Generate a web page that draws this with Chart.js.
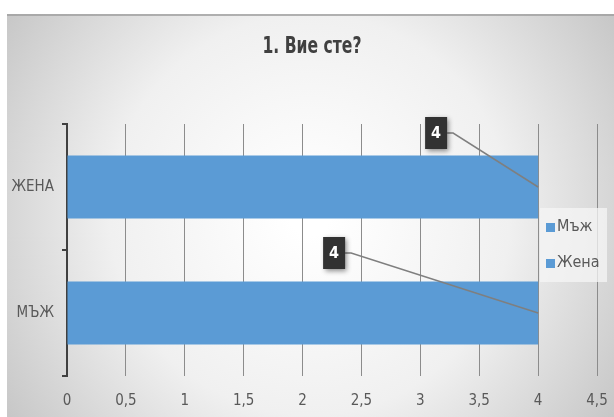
<!DOCTYPE html>
<html>
<head>
<meta charset="utf-8">
<script src="https://cdn.jsdelivr.net/npm/chart.js@4/dist/chart.umd.min.js"></script>
<style>
  html, body { margin: 0; padding: 0; background: #ffffff; }
  #wrap { width: 614px; height: 417px; position: relative; }
</style>
</head>
<body>
<div id="wrap"><canvas id="c"></canvas></div>
<script>
// Answers to "1. Вие сте?"
const chartTitle = '1. Вие сте?';
const categories = ['Мъж', 'Жена'];
const answerCounts = [4, 4];
const xTickStep = 0.5;
const xMax = 4.5;
const legendLabels = ['Мъж', 'Жена'];

const FONT = "'DejaVu Sans Condensed', 'Liberation Sans', sans-serif";
const BAR_BLUE = '#5B9BD5';

// Panel background: soft radial gradient framed in white
const panelBackground = {
  id: 'panelBackground',
  beforeDraw(chart) {
    const ctx = chart.ctx;
    const w = chart.width, h = chart.height;
    ctx.save();
    ctx.fillStyle = '#ffffff';
    ctx.fillRect(0, 0, w, h);
    const px = 7, py = 14;
    const g = ctx.createRadialGradient(310, 215, 20, 310, 215, 420);
    g.addColorStop(0, '#ffffff');
    g.addColorStop(0.45, '#f0f0f0');
    g.addColorStop(1, '#b9b9b9');
    ctx.fillStyle = g;
    ctx.fillRect(px, py, w - px, h - py);
    ctx.fillStyle = 'rgba(160,160,160,0.8)';
    ctx.fillRect(px, py, w - px, 2);
    ctx.restore();
  }
};

// Narrow heading centred above the plot
const narrowTitle = {
  id: 'narrowTitle',
  afterDraw(chart) {
    const ctx = chart.ctx;
    ctx.save();
    ctx.font = 'bold 23px ' + FONT;
    const tw = ctx.measureText(chartTitle).width;
    const targetW = 99;
    ctx.translate(312, 47);
    ctx.scale(targetW / tw, 1);
    ctx.fillStyle = '#404040';
    ctx.textAlign = 'center';
    ctx.textBaseline = 'middle';
    ctx.fillText(chartTitle, 0, 0);
    ctx.restore();
  }
};

// Dark value boxes with leader lines to the bar ends
const valueCallouts = {
  id: 'valueCallouts',
  afterDatasetsDraw(chart) {
    const ctx = chart.ctx;
    const meta = chart.getDatasetMeta(0);
    const offsets = [[-204, -60], [-102, -54]];
    ctx.save();
    meta.data.forEach((bar, i) => {
      const endX = bar.x, endY = bar.y;
      const cx = endX + offsets[i][0], cy = endY + offsets[i][1];
      const bw = 22, bh = 32;
      // leader line
      ctx.strokeStyle = '#7f7f7f';
      ctx.lineWidth = 1.5;
      ctx.beginPath();
      ctx.moveTo(cx + bw / 2, cy);
      ctx.lineTo(cx + bw / 2 + 6, cy);
      ctx.lineTo(endX, endY);
      ctx.stroke();
      // box with shadow
      ctx.shadowColor = 'rgba(0,0,0,0.45)';
      ctx.shadowBlur = 5;
      ctx.shadowOffsetX = 2;
      ctx.shadowOffsetY = 2;
      ctx.fillStyle = '#323232';
      ctx.fillRect(cx - bw / 2, cy - bh / 2, bw, bh);
      ctx.shadowColor = 'transparent';
      ctx.fillStyle = '#ffffff';
      ctx.font = 'bold 16px ' + FONT;
      ctx.textAlign = 'center';
      ctx.textBaseline = 'middle';
      ctx.fillText(String(answerCounts[i]), cx, cy + 1);
    });
    ctx.restore();
  }
};

// Legend panel overlapping the plot on the right
const sideLegend = {
  id: 'sideLegend',
  afterDraw(chart) {
    const ctx = chart.ctx;
    const x0 = 540, y0 = 208, w = 67, h = 74;
    ctx.save();
    ctx.fillStyle = 'rgba(245,245,245,0.75)';
    ctx.fillRect(x0, y0, w, h);
    ctx.font = '16px ' + FONT;
    ctx.textBaseline = 'middle';
    ctx.textAlign = 'left';
    legendLabels.forEach((lbl, i) => {
      const y = y0 + 19 + i * 36;
      ctx.fillStyle = BAR_BLUE;
      ctx.fillRect(x0 + 6, y - 4, 9, 9);
      ctx.fillStyle = '#595959';
      ctx.fillText(lbl, x0 + 17, y);
    });
    ctx.restore();
  }
};

new Chart(document.getElementById('c'), {
  type: 'bar',
  data: {
    labels: categories,
    datasets: [{
      label: 'Брой',
      data: answerCounts,
      backgroundColor: BAR_BLUE,
      borderWidth: 0,
      barPercentage: 0.5,
      categoryPercentage: 1.0
    }]
  },
  options: {
    indexAxis: 'y',
    responsive: true,
    maintainAspectRatio: false,
    animation: false,
    layout: { padding: { left: 7, right: 17, top: 124, bottom: 0 } },
    plugins: {
      legend: { display: false },
      tooltip: { enabled: false },
      title: { display: false }
    },
    scales: {
      x: {
        min: 0,
        max: xMax,
        afterFit(scale) {
          scale.height = 41;
          scale.paddingLeft = 0;
          scale.paddingRight = 0;
        },
        ticks: {
          stepSize: xTickStep,
          color: '#595959',
          font: { family: FONT, size: 15 },
          padding: 16,
          callback: v => String(v).replace('.', ',')
        },
        grid: { color: '#8c8c8c', lineWidth: 1, drawTicks: false },
        border: { display: false }
      },
      y: {
        reverse: true,
        afterFit(scale) {
          scale.width = 60;
          scale.paddingTop = 0;
          scale.paddingBottom = 0;
        },
        ticks: {
          color: '#595959',
          font: { family: FONT, size: 15 },
          padding: 8,
          callback(v) { return this.getLabelForValue(v).toUpperCase(); }
        },
        grid: {
          offset: true,
          drawOnChartArea: false,
          drawTicks: true,
          tickLength: 5,
          color: '#404040',
          lineWidth: 2
        },
        border: { display: true, color: '#404040', width: 2 }
      }
    }
  },
  plugins: [panelBackground, valueCallouts, sideLegend, narrowTitle]
});
</script>
</body>
</html>
